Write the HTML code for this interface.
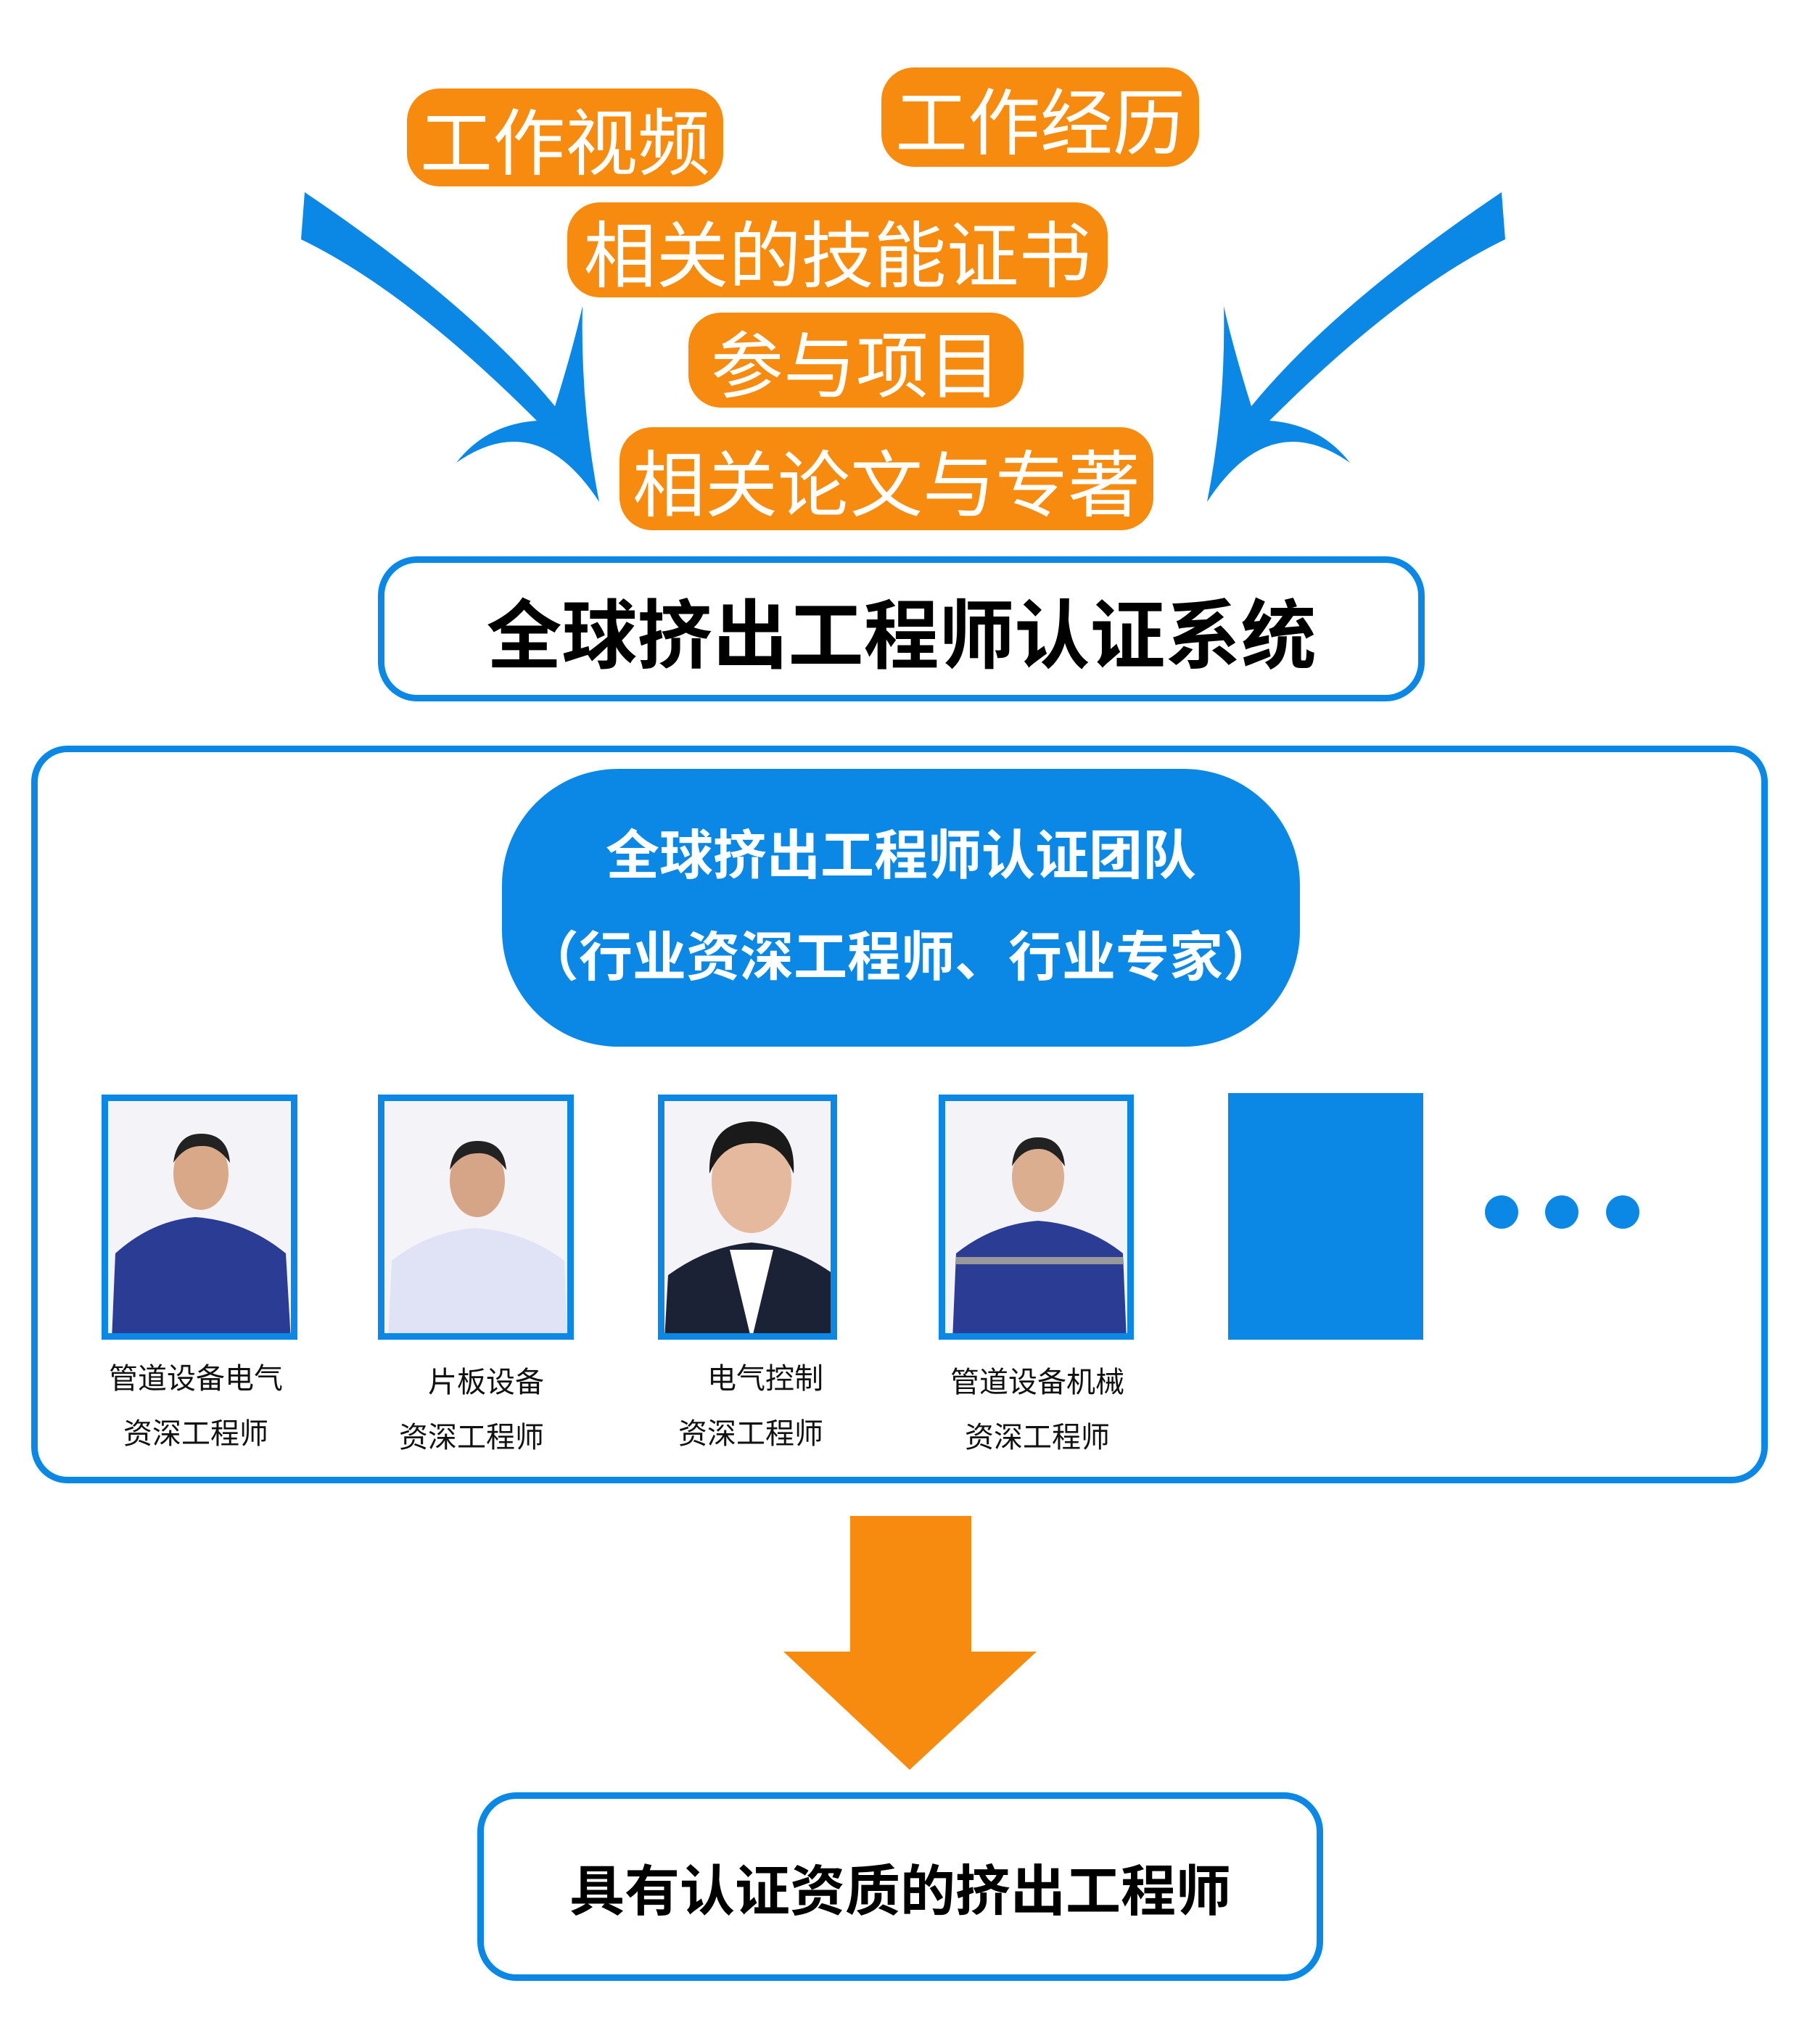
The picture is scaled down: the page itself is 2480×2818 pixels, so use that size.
<!DOCTYPE html>
<html><head><meta charset="utf-8"><style>
body{margin:0;width:2480px;height:2818px;background:#fff;position:relative;overflow:hidden;font-family:"Liberation Sans","Noto Sans CJK SC",sans-serif}
.o{position:absolute;background:#f68b0f;color:#fff;border-radius:45px;display:flex;align-items:center;justify-content:center;font-size:100px;white-space:nowrap}
.b{position:absolute;box-sizing:border-box;border:9px solid #0b88e6;background:#fff;display:flex;align-items:center;justify-content:center;white-space:nowrap}
.ph{position:absolute;box-sizing:border-box;border:9px solid #0b88e6;background:#f4f4f8;overflow:hidden}
.lb{position:absolute;font-size:40px;text-align:center;width:320px;line-height:76px;color:#111}
.dot{position:absolute;width:46px;height:46px;border-radius:50%;background:#0b88e6}
</style></head><body>
<svg width="2480" height="2818" style="position:absolute;left:0;top:0">
<g fill="#0b88e6">
<path d="M420,265 Q650,420 765,560 Q790,480 803,422 Q800,560 826,692 Q740,560 629,638 Q670,585 740,580 Q560,400 415,330 Z"/>
<path transform="translate(2490,0) scale(-1,1)" d="M420,265 Q650,420 765,560 Q790,480 803,422 Q800,560 826,692 Q740,560 629,638 Q670,585 740,580 Q560,400 415,330 Z"/>
</g>
<path fill="#f68b0f" d="M1172,2090 H1339 V2277 H1429 L1254,2440 L1080,2277 H1172 Z"/>
</svg>
<div class="o" style="left:561px;top:122px;width:436px;height:135px">工作视频</div>
<div class="o" style="left:1215px;top:93px;width:438px;height:137px">工作经历</div>
<div class="o" style="left:782px;top:279px;width:745px;height:131px">相关的技能证书</div>
<div class="o" style="left:949px;top:431px;width:462px;height:131px">参与项目</div>
<div class="o" style="left:854px;top:589px;width:736px;height:142px">相关论文与专著</div>
<div class="b" style="left:521px;top:767px;width:1443px;height:200px;border-radius:54px;font-size:104px;font-weight:bold">全球挤出工程师认证系统</div>
<div class="b" style="left:43px;top:1028px;width:2394px;height:1017px;border-radius:50px"></div>
<div style="position:absolute;left:692px;top:1060px;width:1100px;height:383px;border-radius:160px;background:#0b88e6;color:#fff;font-size:74px;font-weight:bold;text-align:center;line-height:140px;padding-top:50px;box-sizing:border-box">全球挤出工程师认证团队<br>（行业资深工程师、行业专家）</div>
<div class="ph" style="left:140px;top:1509px;width:270px;height:338px"><svg width="260" height="330"><path d="M5,330 L10,210 Q60,165 120,160 Q190,165 245,210 L252,330Z" fill="#2a3c94"/><ellipse cx="128" cy="100" rx="38" ry="50" fill="#d9a888"/><path d="M90,85 Q95,45 128,45 Q165,45 168,85 Q150,60 128,62 Q105,62 90,85Z" fill="#222"/></svg></div>
<div class="ph" style="left:521px;top:1509px;width:270px;height:338px"><svg width="260" height="330"><path d="M5,330 L10,220 Q60,180 125,175 Q195,180 248,220 L252,330Z" fill="#dfe3f5"/><ellipse cx="128" cy="110" rx="38" ry="50" fill="#d6a486"/><path d="M90,95 Q95,55 128,55 Q165,55 168,95 Q150,70 128,72 Q105,72 90,95Z" fill="#222"/></svg></div>
<div class="ph" style="left:907px;top:1509px;width:247px;height:338px"><svg width="240" height="330"><path d="M0,330 L5,240 Q60,200 120,195 Q180,200 235,240 L240,330Z" fill="#1c2236"/><path d="M90,205 L120,330 L150,205Z" fill="#fff"/><ellipse cx="120" cy="110" rx="55" ry="72" fill="#e4b99d"/><path d="M62,100 Q60,30 120,28 Q182,30 178,100 Q160,55 120,58 Q80,58 62,100Z" fill="#1a1a1a"/></svg></div>
<div class="ph" style="left:1294px;top:1509px;width:269px;height:338px"><svg width="260" height="330"><path d="M10,330 L15,210 Q65,170 128,165 Q195,170 245,210 L250,330Z" fill="#2a3c94"/><rect x="15" y="215" width="230" height="10" fill="#999"/><ellipse cx="128" cy="105" rx="36" ry="48" fill="#dcae90"/><path d="M92,90 Q95,50 128,50 Q162,50 165,90 Q148,65 128,66 Q106,66 92,90Z" fill="#222"/></svg></div>
<div style="position:absolute;left:1693px;top:1507px;width:269px;height:340px;background:#0b88e6"></div>
<div class="dot" style="left:2047px;top:1648px"></div>
<div class="dot" style="left:2130px;top:1648px"></div>
<div class="dot" style="left:2214px;top:1648px"></div>
<div class="lb" style="left:110px;top:1863px">管道设备电气<br>资深工程师</div>
<div class="lb" style="left:490px;top:1868px"><span style="margin-left:40px">片板设备</span><br>资深工程师</div>
<div class="lb" style="left:875px;top:1863px"><span style="margin-left:40px">电气控制</span><br>资深工程师</div>
<div class="lb" style="left:1270px;top:1868px">管道设备机械<br>资深工程师</div>
<div class="b" style="left:658px;top:2471px;width:1166px;height:260px;border-radius:54px;font-size:76px;font-weight:bold">具有认证资质的挤出工程师</div>
</body></html>
